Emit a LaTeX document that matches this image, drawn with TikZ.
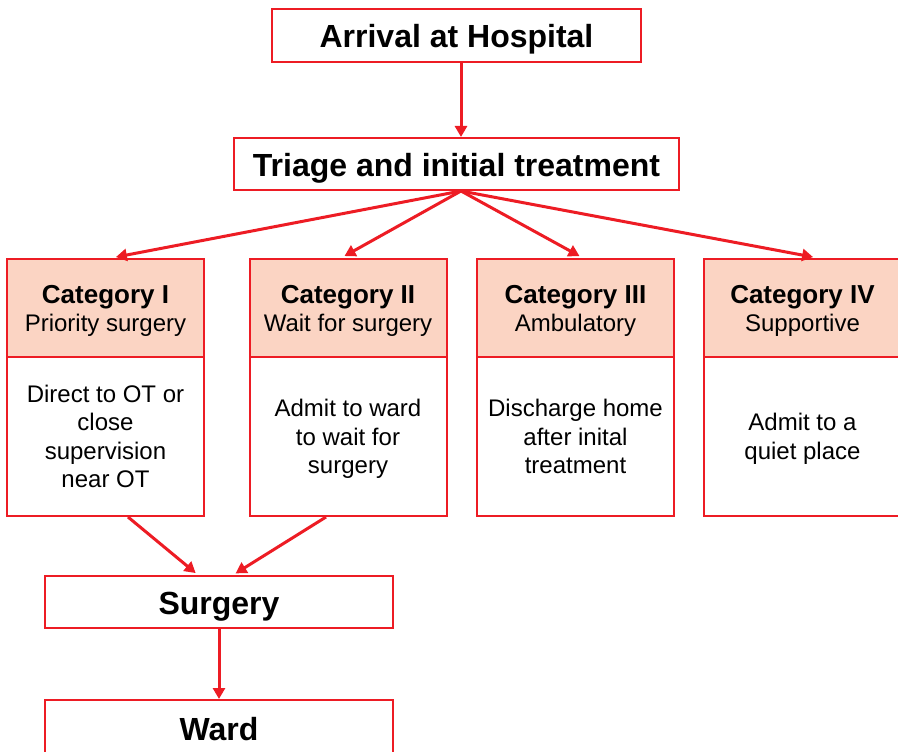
\documentclass[tikz,border=0pt]{standalone}
\usepackage{fontspec}
\setmainfont{Liberation Sans}
\usetikzlibrary{%
  arrows.meta%
}
\definecolor{boxred}{RGB}{237,28,36}
\definecolor{peach}{RGB}{251,212,195}
\tikzset{
  box/.style={draw=boxred,line width=2pt,rectangle,inner sep=0pt,align=center},
  bigbox/.style={box,minimum height=52pt,text height=24pt,text depth=0pt,
    font=\fontsize{32}{38}\selectfont\bfseries},
  cathead/.style={box,fill=peach,minimum width=197pt,minimum height=98pt,
    text depth=-3pt,font=\fontsize{24}{28}\selectfont},
  catbody/.style={box,minimum width=197pt,minimum height=159pt,
    text depth=0pt,font=\fontsize{24}{28.5}\selectfont},
  flow/.style={boxred,line width=3pt,-{Triangle[length=11pt,width=12pt]}}
}
\newcommand{\cattitle}[1]{{\fontsize{26}{28}\selectfont\bfseries #1}}

\begin{document}
\begin{tikzpicture}[x=1pt,y=-1pt]
  \useasboundingbox (0,0) rectangle (898,752);
  \node[bigbox,minimum width=369pt,minimum height=53pt] (arrival) at (456.5,35.5)
  {Arrival at Hospital};
  \node[bigbox,minimum width=445pt] (triage) at (456.5,164)
  {Triage and initial treatment};
  % categories
  \node[cathead] (c1h) at (105.5,308) {\cattitle{Category I}\\Priority surgery};
  \node[cathead] (c2h) at (348,308) {\cattitle{Category II}\\Wait for surgery};
  \node[cathead] (c3h) at (575.5,308) {\cattitle{Category III}\\Ambulatory};
  \node[cathead] (c4h) at (802.5,308) {\cattitle{Category IV}\\Supportive};
  \node[catbody] (c1b) at (105.5,436.5) {Direct to OT or\\close\\supervision\\near OT};
  \node[catbody] (c2b) at (348,436.5) {Admit to ward\\to wait for\\surgery};
  \node[catbody] (c3b) at (575.5,436.5) {Discharge home\\after inital\\treatment};
  \node[catbody] (c4b) at (802.5,436.5) {Admit to a\\quiet place};
  \node[bigbox,minimum width=348pt] (surgery) at (219,602) {Surgery};
  \node[bigbox,minimum width=348pt,minimum height=56pt] (ward) at (219,728) {Ward};
  % arrows
  \draw[flow] ([xshift=4.5pt]arrival.south) -- ([xshift=4.5pt]triage.north);
  \draw[flow,shorten >=5pt] ([xshift=4.5pt]triage.south) -- ([xshift=5.5pt]c1h.north);
  \draw[flow,shorten >=4pt] ([xshift=4.5pt]triage.south) -- ([xshift=-7pt]c2h.north);
  \draw[flow,shorten >=4pt] ([xshift=4.5pt]triage.south) -- ([xshift=7.5pt]c3h.north);
  \draw[flow,shorten >=5pt] ([xshift=4.5pt]triage.south) -- ([xshift=15.5pt]c4h.north);
  \draw[flow,shorten >=3pt] ([xshift=22.5pt]c1b.south) -- ([xshift=-21pt]surgery.north);
  \draw[flow,shorten >=3pt] ([xshift=-22pt]c2b.south) -- ([xshift=14pt]surgery.north);
  \draw[flow] (surgery.south) -- (ward.north);
\end{tikzpicture}
\end{document}
